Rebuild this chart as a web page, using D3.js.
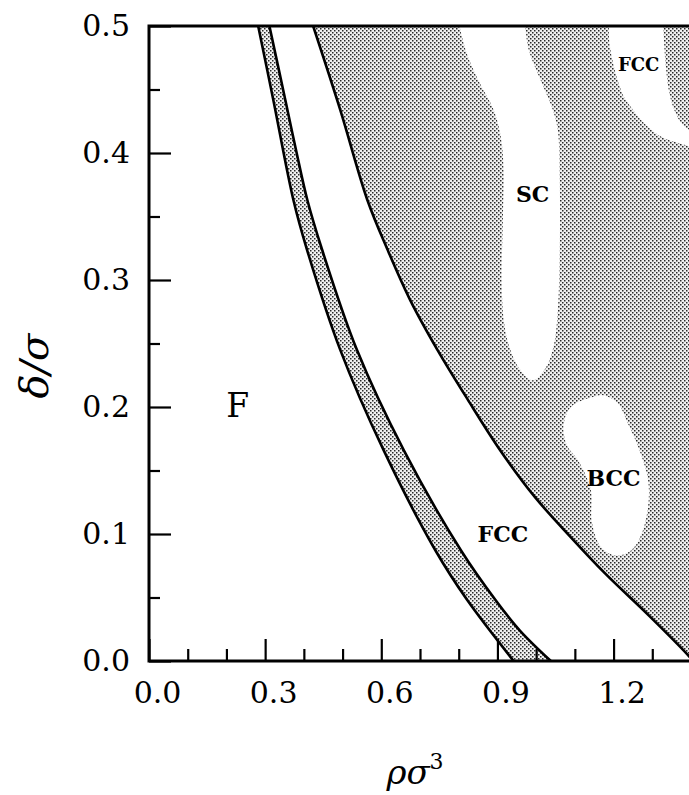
<!DOCTYPE html>
<html>
<head>
<meta charset="utf-8">
<script src="https://cdn.jsdelivr.net/npm/d3@7"></script>
<style>
  html, body { margin: 0; padding: 0; background: #fff; }
  svg { display: block; }
</style>
</head>
<body>
<svg id="chart" width="689" height="795"></svg>
<script>
// ---------------- data ----------------
const xMajorTicks = [0.0, 0.3, 0.6, 0.9, 1.2];
const xMinorTicks = [0.1, 0.2, 0.4, 0.5, 0.7, 0.8, 1.0, 1.1, 1.3];
const yMajorTicks = [0.0, 0.1, 0.2, 0.3, 0.4, 0.5];
const yMinorTicks = [0.05, 0.15, 0.25, 0.35, 0.45];

// boundary A (fluid / coexistence band, left)
const lineA_rho   = [0.282, 0.321, 0.373, 0.408, 0.494, 0.606, 0.740, 0.822, 0.942];
const lineA_delta = [0.500, 0.442, 0.363, 0.324, 0.245, 0.166, 0.087, 0.048, 0.000];
// boundary B (coexistence band, right)
const lineB_rho   = [0.311, 0.352, 0.380, 0.409, 0.447, 0.537, 0.658, 0.806, 0.895, 0.958, 1.038];
const lineB_delta = [0.500, 0.442, 0.402, 0.363, 0.324, 0.245, 0.166, 0.087, 0.048, 0.024, 0.000];
// boundary C (FCC / shaded region)
const lineC_rho   = [0.424, 0.494, 0.564, 0.616, 0.675, 0.745, 0.823, 0.907, 0.997, 1.088, 1.178, 1.294, 1.400, 1.430];
const lineC_delta = [0.500, 0.434, 0.363, 0.324, 0.284, 0.245, 0.206, 0.166, 0.129, 0.098, 0.069, 0.035, 0.002, -0.010];

// white (unshaded) islands inside the shaded region
const scHole_rho   = [0.797, 0.818, 0.851, 0.890, 0.908, 0.916, 0.914, 0.911, 0.916, 0.929, 0.955, 0.991, 1.025, 1.046, 1.056, 1.061, 1.061, 1.056, 1.043, 1.012, 0.981, 0.960, 0.880, 0.797];
const scHole_delta = [0.510, 0.481, 0.457, 0.434, 0.414, 0.387, 0.347, 0.300, 0.269, 0.249, 0.231, 0.221, 0.231, 0.249, 0.276, 0.324, 0.379, 0.418, 0.434, 0.457, 0.481, 0.510, 0.530, 0.530];

const bccHole_rho   = [1.149, 1.090, 1.071, 1.079, 1.108, 1.141, 1.144, 1.167, 1.206, 1.245, 1.271, 1.289, 1.289, 1.263, 1.237, 1.211, 1.175];
const bccHole_delta = [0.208, 0.200, 0.186, 0.170, 0.158, 0.135, 0.109, 0.090, 0.083, 0.087, 0.099, 0.121, 0.143, 0.169, 0.187, 0.203, 0.209];

const fccHole_rho   = [1.188, 1.190, 1.201, 1.214, 1.227, 1.250, 1.271, 1.322, 1.366, 1.398, 1.440, 1.440, 1.398, 1.374, 1.348, 1.335, 1.328, 1.320, 1.200];
const fccHole_delta = [0.500, 0.485, 0.468, 0.454, 0.444, 0.434, 0.426, 0.413, 0.408, 0.405, 0.400, 0.420, 0.418, 0.424, 0.442, 0.468, 0.500, 0.530, 0.530];

const regionLabels     = ["F", "FCC", "BCC", "SC", "FCC"];
const regionLabelRho   = [0.229, 0.914, 1.200, 0.991, 1.265];
const regionLabelDelta = [0.201, 0.100, 0.144, 0.368, 0.470];

// ---------------- layout ----------------
const svg = d3.select("#chart");
const L = 149, R = 691, T = 26, B = 661;
const x = d3.scaleLinear().domain([0, 1.4]).range([L, R]);
const y = d3.scaleLinear().domain([0, 0.5]).range([B, T]);

const defs = svg.append("defs");
const pat = defs.append("pattern")
  .attr("id", "stipple").attr("patternUnits", "userSpaceOnUse")
  .attr("width", 4).attr("height", 4);
pat.append("rect").attr("width", 4).attr("height", 4).attr("fill", "#f0f0f0");
pat.append("rect").attr("x", 0).attr("y", 0).attr("width", 1.5).attr("height", 1.5).attr("fill", "#2a2a2a");
pat.append("rect").attr("x", 2).attr("y", 2).attr("width", 1.5).attr("height", 1.5).attr("fill", "#2a2a2a");

defs.append("clipPath").attr("id", "plotclip")
  .append("rect").attr("x", L).attr("y", T).attr("width", R - L).attr("height", B - T);

const zip = (a, b) => a.map((v, i) => [v, b[i]]);
const lineGen = d3.line().x(d => x(d[0])).y(d => y(d[1])).curve(d3.curveCatmullRom.alpha(0.5));
const closedGen = d3.line().x(d => x(d[0])).y(d => y(d[1])).curve(d3.curveCatmullRomClosed.alpha(0.5));

const A = zip(lineA_rho, lineA_delta);
const Bp = zip(lineB_rho, lineB_delta);
const C = zip(lineC_rho, lineC_delta);

const g = svg.append("g").attr("clip-path", "url(#plotclip)");

// band between A and B
const bandPath = lineGen(A) + lineGen(Bp.slice().reverse()).replace(/^M/, "L") + "Z";
g.append("path").attr("d", bandPath).attr("fill", "url(#stipple)");

// shaded region right of C
const regionPath = lineGen(C) + `L${x(1.5)},${y(-0.02)}L${x(1.5)},${y(0.52)}L${x(lineC_rho[0])},${y(0.52)}Z`;
g.append("path").attr("d", regionPath).attr("fill", "url(#stipple)");

// white islands
[[scHole_rho, scHole_delta], [bccHole_rho, bccHole_delta], [fccHole_rho, fccHole_delta]].forEach(([r, d]) => {
  g.append("path").attr("d", closedGen(zip(r, d))).attr("fill", "#fff");
});

// boundary lines
[A, Bp, C].forEach(pts => {
  g.append("path").attr("d", lineGen(pts)).attr("fill", "none")
    .attr("stroke", "#000").attr("stroke-width", 2.6);
});

// ---------------- axes ----------------
const fontTick = "'DejaVu Serif', serif";

const xAxisMajor = d3.axisBottom(x).tickValues(xMajorTicks).tickSizeInner(-22).tickSizeOuter(0)
  .tickPadding(21).tickFormat(d3.format(".1f"));
const xAxisMinor = d3.axisBottom(x).tickValues(xMinorTicks).tickSizeInner(-12).tickSizeOuter(0).tickFormat("");
const yAxisMajor = d3.axisLeft(y).tickValues(yMajorTicks).tickSizeInner(-22).tickSizeOuter(0)
  .tickPadding(19).tickFormat(d3.format(".1f"));
const yAxisMinor = d3.axisLeft(y).tickValues(yMinorTicks).tickSizeInner(-11).tickSizeOuter(0).tickFormat("");

function styleAxis(sel) {
  sel.selectAll(".domain").remove();
  sel.selectAll(".tick line").attr("stroke", "#000").attr("stroke-width", 2.2);
  sel.selectAll(".tick text").attr("fill", "#000").style("font-family", fontTick).style("font-size", "30px");
}

const gxMinor = svg.append("g").attr("transform", `translate(0,${B})`).call(xAxisMinor); styleAxis(gxMinor);
const gxMajor = svg.append("g").attr("transform", `translate(0,${B})`).call(xAxisMajor); styleAxis(gxMajor);
gxMajor.selectAll(".tick text").attr("dx", 8);
const gyMinor = svg.append("g").attr("transform", `translate(${L},0)`).call(yAxisMinor); styleAxis(gyMinor);
const gyMajor = svg.append("g").attr("transform", `translate(${L},0)`).call(yAxisMajor); styleAxis(gyMajor);

// frame spines: left, top, bottom
svg.append("path")
  .attr("d", `M${R},${T}H${L}V${B}H${R}`)
  .attr("fill", "none").attr("stroke", "#000").attr("stroke-width", 3)
  .attr("stroke-linejoin", "miter");

// ---------------- region labels ----------------
regionLabels.forEach((t, i) => {
  const isF = t === "F";
  const size = isF ? 33 : (i === 4 ? 18 : 22);
  svg.append("text")
    .attr("x", x(regionLabelRho[i])).attr("y", y(regionLabelDelta[i]))
    .attr("text-anchor", "middle").attr("dominant-baseline", "central")
    .style("font-family", fontTick)
    .style("font-weight", isF ? "normal" : "bold")
    .style("font-size", size + "px")
    .text(t);
});

// ---------------- axis titles ----------------
const xt = svg.append("text")
  .attr("x", 415).attr("y", 784).attr("text-anchor", "middle")
  .style("font-family", fontTick).style("font-style", "italic").style("font-size", "34px");
xt.append("tspan").text("ρσ");
xt.append("tspan").attr("dy", -15).style("font-size", "22px").style("font-style", "normal").text("3");

svg.append("text")
  .attr("transform", "translate(48,366) rotate(-90)")
  .attr("text-anchor", "middle")
  .style("font-family", fontTick).style("font-style", "italic").style("font-size", "40px")
  .text("δ/σ");
</script>
</body>
</html>
